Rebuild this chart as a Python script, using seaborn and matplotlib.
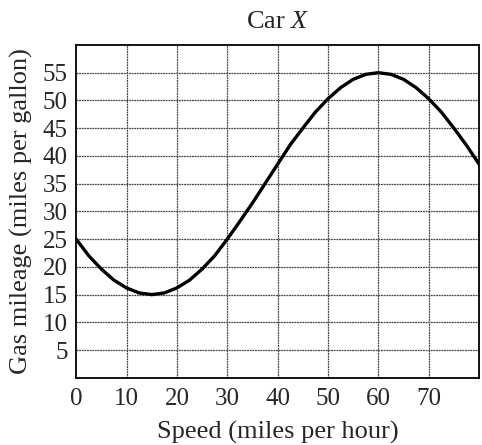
import matplotlib
matplotlib.use("Agg")
import matplotlib.pyplot as plt
import seaborn as sns
import pandas as pd

speed = [0, 2.5, 5, 7.5, 10, 12.5, 15, 17.5, 20, 22.5, 25, 27.5, 30, 32.5, 35, 37.5,
         40, 42.5, 45, 47.5, 50, 52.5, 55, 57.5, 60, 62.5, 65, 67.5, 70, 72.5, 75, 77.5, 80]
mileage = [25.0, 22.0, 19.6, 17.6, 16.2, 15.3, 15.0, 15.3, 16.2, 17.6, 19.6, 22.0, 25.0,
           28.2, 31.5, 35.0, 38.5, 42.0, 45.0, 47.9, 50.3, 52.3, 53.8, 54.7, 55.0, 54.7,
           53.8, 52.3, 50.3, 47.9, 45.0, 41.9, 38.5]
x_ticks = [0, 10, 20, 30, 40, 50, 60, 70]
y_ticks = [5, 10, 15, 20, 25, 30, 35, 40, 45, 50, 55]
title = "Car $\\it{X}$"
x_label = "Speed (miles per hour)"
y_label = "Gas mileage (miles per gallon)"

sns.set_style("white")
plt.rcParams['font.family'] = ['Liberation Serif', 'DejaVu Serif']
plt.rcParams['mathtext.fontset'] = 'custom'
plt.rcParams['mathtext.it'] = 'Liberation Serif:italic'
plt.rcParams['mathtext.rm'] = 'Liberation Serif'

fig = plt.figure(figsize=(4.82, 4.45), dpi=100)
ax = fig.add_axes([0.158, 0.151, 0.836, 0.748])

df = pd.DataFrame({"speed": speed, "mileage": mileage})
for v in [10, 20, 30, 40, 50, 60, 70]:
    ax.axvline(v, color="#444444", lw=0.9, ls=(0, (1.5, 0.6)), zorder=1)
for v in y_ticks:
    ax.axhline(v, color="#444444", lw=0.9, ls=(0, (1.5, 0.6)), zorder=1)

sns.lineplot(data=df, x="speed", y="mileage", ax=ax, color="black", lw=2.4, zorder=3)

ax.set_xlim(0, 80)
ax.set_ylim(0, 60)
ax.set_xticks(x_ticks)
ax.set_yticks(y_ticks)
ax.set_xticklabels([str(t) for t in x_ticks], fontsize=18)
ax.set_yticklabels([str(t) for t in y_ticks], fontsize=18)
ax.tick_params(axis="y", length=0, pad=6)
ax.tick_params(axis="x", length=0, pad=7)
for s in ax.spines.values():
    s.set_color("black")
    s.set_linewidth(1.3)
ax.set_xlabel(x_label, fontsize=19, labelpad=8)
ax.set_ylabel(y_label, fontsize=19, labelpad=7)
ax.set_title(title, fontsize=19, pad=12)

fig.savefig("out.png", dpi=100)
